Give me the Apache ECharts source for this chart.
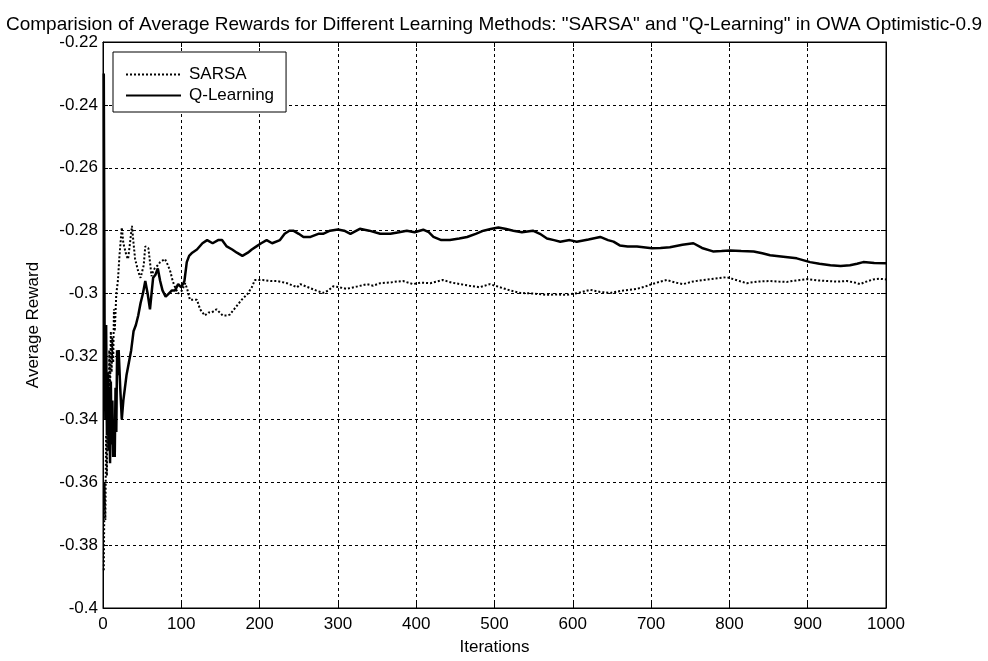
<!DOCTYPE html>
<html>
<head>
<meta charset="utf-8">
<script src="https://cdn.jsdelivr.net/npm/echarts@6/dist/echarts.min.js"></script>
<style>html,body{margin:0;padding:0;background:#fff}#c{width:988px;height:661px}</style>
</head>
<body>
<div id="c"></div>
<script>
const titleText = 'Comparision of Average Rewards for Different Learning Methods: "SARSA" and "Q-Learning" in OWA Optimistic-0.9';
const seriesNames = ['SARSA', 'Q-Learning'];

const qIter = [1,2,3,4,5,6,7,8,9,10,11,12,13,14,15,16,17,18,19,20,22,24,26,28,30,33,36,39,42,45,48,51,54,57,60,62,64,67,70,73,76,80,84,88,92,96,100,104,107,110,114,120,127,133,140,147,152,158,165,171,178,185,190,196,202,209,216,226,232,238,243,250,256,265,275,281,290,300,308,316,328,340,354,367,378,388,398,409,416,422,432,443,455,465,476,486,495,505,515,524,535,549,558,567,576,584,596,605,620,635,645,652,660,670,682,701,712,724,740,754,765,779,790,801,815,831,842,852,866,886,903,915,929,942,954,963,971,985,1000];
const qVal = [-0.230,-0.309,-0.340,-0.310,-0.345,-0.325,-0.350,-0.330,-0.354,-0.328,-0.348,-0.334,-0.352,-0.342,-0.352,-0.330,-0.344,-0.318,-0.326,-0.318,-0.330,-0.340,-0.334,-0.330,-0.326,-0.322,-0.318,-0.312,-0.310,-0.307,-0.303,-0.300,-0.296,-0.300,-0.305,-0.300,-0.295,-0.294,-0.292,-0.296,-0.299,-0.301,-0.300,-0.299,-0.299,-0.297,-0.298,-0.296,-0.290,-0.288,-0.287,-0.286,-0.284,-0.283,-0.284,-0.283,-0.283,-0.285,-0.286,-0.287,-0.288,-0.287,-0.286,-0.285,-0.284,-0.283,-0.284,-0.283,-0.281,-0.280,-0.280,-0.281,-0.282,-0.282,-0.281,-0.281,-0.280,-0.2796,-0.280,-0.281,-0.2794,-0.280,-0.281,-0.281,-0.2805,-0.280,-0.2805,-0.2797,-0.2805,-0.282,-0.283,-0.283,-0.2825,-0.282,-0.281,-0.280,-0.2795,-0.279,-0.2795,-0.280,-0.2805,-0.280,-0.281,-0.2825,-0.283,-0.2835,-0.283,-0.2835,-0.2828,-0.282,-0.283,-0.2835,-0.2847,-0.285,-0.285,-0.2856,-0.2855,-0.2853,-0.2845,-0.284,-0.2855,-0.2866,-0.2865,-0.2863,-0.2865,-0.2866,-0.2872,-0.2878,-0.2882,-0.2888,-0.290,-0.2905,-0.291,-0.2912,-0.291,-0.2905,-0.290,-0.2903,-0.2904];

const sIter = [1,2,3,4,5,6,7,8,9,10,11,12,13,14,15,17,19,21,24,26,28,30,32,34,37,39,41,43,45,48,50,52,54,56,58,60,62,64,66,70,73,79,83,86,89,92,96,101,105,108,111,116,120,124,130,135,139,145,149,153,158,162,169,177,185,190,194,204,214,222,235,248,252,262,272,281,288,294,302,311,324,337,345,354,366,375,383,396,406,418,426,434,445,456,468,481,494,507,520,533,550,567,580,592,607,622,635,648,665,682,692,701,712,720,731,741,753,766,782,797,810,822,836,852,863,873,886,899,912,924,937,950,960,967,975,984,992,1000];
const sVal = [-0.388,-0.360,-0.372,-0.345,-0.358,-0.330,-0.345,-0.318,-0.332,-0.312,-0.325,-0.314,-0.322,-0.305,-0.312,-0.300,-0.296,-0.288,-0.279,-0.284,-0.286,-0.288,-0.289,-0.285,-0.2785,-0.284,-0.289,-0.291,-0.293,-0.295,-0.295,-0.291,-0.285,-0.2846,-0.2856,-0.290,-0.2945,-0.293,-0.292,-0.291,-0.290,-0.289,-0.291,-0.293,-0.296,-0.298,-0.300,-0.299,-0.2967,-0.299,-0.302,-0.302,-0.302,-0.305,-0.307,-0.306,-0.306,-0.305,-0.306,-0.307,-0.307,-0.3067,-0.3045,-0.302,-0.300,-0.298,-0.2957,-0.2957,-0.296,-0.296,-0.2967,-0.298,-0.297,-0.298,-0.299,-0.2998,-0.299,-0.2977,-0.298,-0.2985,-0.2978,-0.297,-0.2975,-0.2967,-0.2965,-0.2962,-0.296,-0.297,-0.2965,-0.2967,-0.2962,-0.2957,-0.2965,-0.297,-0.2975,-0.298,-0.297,-0.298,-0.299,-0.2998,-0.300,-0.3004,-0.3003,-0.3004,-0.2998,-0.2988,-0.2995,-0.2998,-0.299,-0.2985,-0.2978,-0.297,-0.2962,-0.2957,-0.2965,-0.297,-0.2962,-0.2957,-0.2952,-0.2948,-0.2958,-0.2967,-0.2962,-0.296,-0.2962,-0.2963,-0.2958,-0.2954,-0.2958,-0.296,-0.2962,-0.296,-0.2965,-0.297,-0.2962,-0.2955,-0.2953,-0.2955];

const xMin = 0, xMax = 1000, xStep = 100;
const yMin = -0.4, yMax = -0.22, yStep = 0.02;

const FONT = 'Liberation Sans';
const chart = echarts.init(document.getElementById('c'), null, {renderer: 'canvas'});
const fmtY = v => String(parseFloat(v.toFixed(2)));
const fmtX = v => String(Math.round(v));
const tickStyle = {show: true, inside: true, length: 5, lineStyle: {color: '#000', width: 1}};
const gridDash = {show: true, lineStyle: {color: '#000', type: [3, 3], width: 1}};

chart.setOption({
  animation: false,
  backgroundColor: '#fff',
  title: {
    text: titleText, left: 'center', top: 10,
    textStyle: {fontFamily: FONT, fontSize: 19, fontWeight: 'normal', color: '#000'}
  },
  legend: {
    show: true, orient: 'vertical', left: 113, top: 52,
    backgroundColor: '#fff', borderColor: '#000', borderWidth: 1,
    padding: [14, 12, 8, 12], itemGap: 4, itemWidth: 55, itemHeight: 17,
    itemStyle: {opacity: 0},
    data: seriesNames.map(n => ({name: n})),
    textStyle: {fontFamily: FONT, fontSize: 17, color: '#000', padding: [0, 0, 0, 3]}
  },
  grid: {left: 103, right: 102, top: 42, bottom: 50, show: true, borderColor: '#000', borderWidth: 1, backgroundColor: 'transparent'},
  xAxis: [{
    type: 'value', min: xMin, max: xMax, interval: xStep,
    name: 'Iterations', nameLocation: 'middle', nameGap: 31,
    nameTextStyle: {fontFamily: FONT, fontSize: 17, color: '#000'},
    axisLine: {show: true, onZero: false, lineStyle: {color: '#000'}},
    axisTick: tickStyle,
    axisLabel: {fontFamily: FONT, fontSize: 17, color: '#000', margin: 8, formatter: fmtX},
    splitLine: gridDash
  }, {
    type: 'value', min: xMin, max: xMax, interval: xStep, position: 'top',
    axisLine: {show: true, onZero: false, lineStyle: {color: '#000'}},
    axisTick: tickStyle, axisLabel: {show: false}, splitLine: {show: false}
  }],
  yAxis: [{
    type: 'value', min: yMin, max: yMax, interval: yStep,
    name: 'Average Reward', nameLocation: 'middle', nameGap: 61, nameRotate: 90,
    nameTextStyle: {fontFamily: FONT, fontSize: 17, color: '#000'},
    axisLine: {show: true, onZero: false, lineStyle: {color: '#000'}},
    axisTick: tickStyle,
    axisLabel: {fontFamily: FONT, fontSize: 17, color: '#000', margin: 5, formatter: fmtY},
    splitLine: gridDash
  }, {
    type: 'value', min: yMin, max: yMax, interval: yStep, position: 'right',
    axisLine: {show: true, onZero: false, lineStyle: {color: '#000'}},
    axisTick: tickStyle, axisLabel: {show: false}, splitLine: {show: false}
  }],
  series: [{
    name: seriesNames[0], type: 'line', showSymbol: false, symbol: 'none',
    data: sIter.map((x, i) => [x, sVal[i]]),
    lineStyle: {color: '#000', width: 2, type: [2, 2]},
    itemStyle: {color: '#000'}, z: 3
  }, {
    name: seriesNames[1], type: 'line', showSymbol: false, symbol: 'none',
    data: qIter.map((x, i) => [x, qVal[i]]),
    lineStyle: {color: '#000', width: 2.5, type: 'solid'},
    itemStyle: {color: '#000'}, z: 4
  }]
});
</script>
</body>
</html>
